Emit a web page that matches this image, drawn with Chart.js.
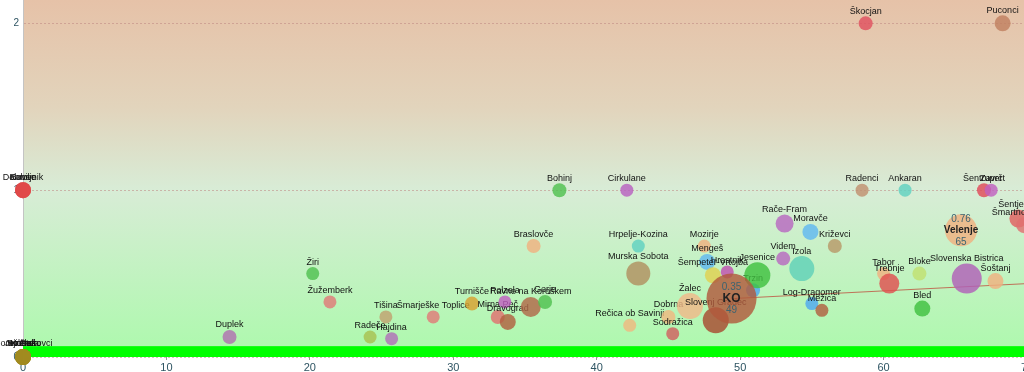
<!DOCTYPE html>
<html lang="sl">
  <head>
    <meta charset="UTF-8" />
    <script src="https://cdn.jsdelivr.net/npm/chart.js"></script>
    <title>Občine</title>
    <style>
      html, body { margin: 0; padding: 0; overflow: hidden; background: #fff; }
      #wrap { position: relative; width: 1027px; height: 372px; }
    </style>
  </head>
  <body>
    <div id="wrap"><canvas id="myChart"></canvas></div>
  <script>
    // data (paint order: first is drawn first)
    const names = [
      "Hodoš", "Kostel", "Jezersko", "Solčava", "Gornji Petrovci",
      "Dobrovnik", "Bovec", "Kobilje",
      "Duplek", "Žiri", "Žužemberk", "Radeče", "Tišina", "Hajdina",
      "Šmarješke Toplice", "Turnišče", "Mirna Peč", "Polzela", "Dravograd",
      "Ravne na Koroškem", "Gorje", "Braslovče", "Bohinj", "Cirkulane",
      "Rečica ob Savinji", "Hrpelje-Kozina", "Murska Sobota", "Dobrna",
      "Sodražica", "Žalec", "Mozirje", "Mengeš", "Šempeter-Vrtojba",
      "Hrastnik", "Slovenj Gradec", "Trzin", "Jesenice", "KO", "Videm",
      "Rače-Fram", "Izola", "Moravče", "Log-Dragomer", "Mežica", "Križevci",
      "Radenci", "Škocjan", "Tabor", "Trebnje", "Ankaran", "Bloke", "Bled",
      "Velenje", "Slovenska Bistrica", "Šentrupert", "Zavrč", "Šoštanj",
      "Puconci", "Šentjernej", "Šmartno pri Litiji"
    ];
    const xVals = [
      0, 0, 0, 0, 0,
      0, 0, 0,
      14.4, 20.2, 21.4, 24.2, 25.3, 25.7,
      28.6, 31.3, 33.1, 33.6, 33.8,
      35.4, 36.4, 35.6, 37.4, 42.1,
      42.3, 42.9, 42.9, 45.0,
      45.3, 46.5, 47.5, 47.7, 48.1,
      49.1, 48.3, 50.9, 51.2, 49.4, 53.0,
      53.1, 54.3, 54.9, 55.0, 55.7, 56.6,
      58.5, 58.75, 60.0, 60.4, 61.5, 62.5, 62.7,
      65.4, 65.8, 67.0, 67.5, 67.8,
      68.3, 69.4, 69.8
    ];
    const yVals = [
      0, 0, 0, 0, 0,
      1, 1, 1,
      0.12, 0.5, 0.33, 0.12, 0.24, 0.11,
      0.24, 0.32, 0.24, 0.33, 0.21,
      0.3, 0.33, 0.665, 1, 1,
      0.19, 0.665, 0.5, 0.24,
      0.14, 0.305, 0.665, 0.57, 0.49,
      0.51, 0.22, 0.4, 0.49, 0.35, 0.59,
      0.8, 0.53, 0.75, 0.32, 0.28, 0.665,
      1, 2, 0.5, 0.44, 1, 0.5, 0.29,
      0.76, 0.47, 1, 1, 0.455,
      2, 0.83, 0.79
    ];
    // bubble size
    const sizes = [
      8, 8, 8, 8, 8,
      8, 8, 8,
      7, 6.5, 6.5, 6.5, 6.5, 6.5,
      6.5, 7, 7, 6.5, 8,
      10, 7, 7, 7, 6.5,
      6.5, 6.5, 12, 7,
      6.5, 13, 6.5, 8, 8,
      6.5, 13, 7, 13, 25, 7,
      9, 12.5, 8, 6.5, 6.5, 7,
      6.5, 7, 6.5, 10, 6.5, 7, 8,
      16, 15, 7, 6.5, 8,
      8, 9, 8
    ];
    const highlighted = ["KO", "Velenje"];

    // regression line
    const trendX = [49.4, 70];
    const trendY = [0.35, 0.44];

    const xTicksMax = 70;
    const yTicksMax = 2.14;
    const greenBandTop = 0.065;

    const colors = [
      "#a08a20", "#a08a20", "#a08a20", "#a08a20", "#a08a20",
      "#e04848", "#e04848", "#e04848",
      "#b070b0", "#50c050", "#e07a78", "#a8c050", "#c0a070", "#b070b8",
      "#e07a78", "#d8a030", "#e07070", "#c060c0", "#b06040",
      "#b06848", "#50c050", "#f0b080", "#50c050", "#b860c0",
      "#f0b880", "#60d0c0", "#b09060", "#f0b880",
      "#d06060", "#f0b888", "#f0b080", "#60b8f0", "#e0d050",
      "#c050b0", "#a84a30", "#50a8f0", "#40c040", "#b05a3c", "#b868c0",
      "#b868c0", "#60d0b8", "#60b8f0", "#50a8f0", "#b06040", "#b89868",
      "#c09070", "#e0505f", "#f0b080", "#e05050", "#60d0c0", "#c0e070", "#40c040",
      "#f0b080", "#b060b8", "#e04858", "#c060c0", "#f0b080",
      "#c08060", "#e06060", "#e07070"
    ];

    const n = names.length;
    const datasets = names.map(function (name, i) {
      return {
        type: "bubble",
        pointName: name,
        highlight: highlighted.indexOf(name) >= 0,
        data: [{ x: xVals[i], y: yVals[i], r: sizes[i] }],
        backgroundColor: colors[i] + "d0",
        borderWidth: 0,
        clip: false,
        order: n - i,
      };
    });
    datasets.push({
      type: "line",
      data: trendX.map(function (x, i) { return { x: x, y: trendY[i] }; }),
      borderColor: "rgba(190,90,70,0.85)",
      borderWidth: 1,
      pointRadius: 0,
      order: n + 5,
    });

    const decor = {
      id: "decor",
      beforeDraw(chart) {
        const a = chart.chartArea, c = chart.ctx;
        const g = c.createLinearGradient(0, a.top, 0, a.bottom);
        g.addColorStop(0, "#e6c2a8");
        g.addColorStop(0.3, "#e2d4bc");
        g.addColorStop(0.53, "#d8ecd6");
        g.addColorStop(1, "#acf9ac");
        c.save();
        c.fillStyle = g;
        c.fillRect(a.left, a.top, a.right - a.left, a.bottom - a.top);
        c.restore();
      },
      beforeDatasetsDraw(chart) {
        const a = chart.chartArea, c = chart.ctx, y = chart.scales.y;
        const top = y.getPixelForValue(greenBandTop);
        const bot = y.getPixelForValue(0);
        c.save();
        c.fillStyle = "#00ff00";
        c.fillRect(a.left, top, a.right - a.left, bot - top);
        c.restore();
      },
      // name above every bubble, drawn right after its own bubble
      afterDatasetDraw(chart, args) {
        const ds = chart.data.datasets[args.index];
        if (ds.pointName === undefined) return;
        const el = args.meta.data[0];
        const r = el.options.radius;
        const c = chart.ctx;
        c.save();
        c.textAlign = "center";
        c.textBaseline = "middle";
        if (ds.highlight) {
          const p = ds.data[0];
          c.font = "10px 'Liberation Sans'";
          c.fillStyle = "#3c6370";
          c.fillText(p.y.toFixed(2), el.x, el.y - 11);
          c.fillText(String(Math.round(p.x)), el.x, el.y + 12);
          c.font = (r > 20 ? "bold 12px" : "bold 10px") + " 'Liberation Sans'";
          c.fillStyle = "#222";
          c.fillText(ds.pointName, el.x, el.y);
        } else {
          c.font = "9px 'Liberation Sans'";
          c.fillStyle = "#111";
          c.fillText(ds.pointName, el.x, el.y - r - 5);
        }
        c.restore();
      },
    };

    new Chart(document.getElementById("myChart"), {
      type: "bubble",
      data: { datasets: datasets },
      options: {
        responsive: true,
        maintainAspectRatio: false,
        animation: false,
        events: [],
        layout: { padding: 0, autoPadding: false },
        plugins: { legend: { display: false }, tooltip: { enabled: false } },
        scales: {
          x: {
            type: "linear",
            min: 0,
            max: xTicksMax,
            ticks: {
              stepSize: 10,
              color: "#2f5563",
              font: { family: "Liberation Sans", size: 11 },
              padding: 1,
            },
            grid: { drawOnChartArea: false, tickLength: 3, color: "#999" },
            border: { display: false },
            afterFit(s) {
              s.height = 15;
              s.paddingLeft = 0;
              s.paddingRight = 0;
            },
          },
          y: {
            min: 0,
            max: yTicksMax,
            ticks: {
              stepSize: 1,
              includeBounds: false,
              color: "#2f5563",
              font: { family: "Liberation Sans", size: 10 },
              padding: 4,
              callback: function (v) { return Number.isInteger(v) ? v : ""; },
            },
            grid: { color: "rgba(190,135,130,0.55)", drawTicks: false },
            border: { display: true, color: "#c4c4c4", width: 1, dash: [2, 2] },
            afterFit(s) {
              s.width = 23;
              s.paddingTop = 0;
              s.paddingBottom = 0;
            },
          },
        },
      },
      plugins: [decor],
    });
  </script>
  </body>
</html>
